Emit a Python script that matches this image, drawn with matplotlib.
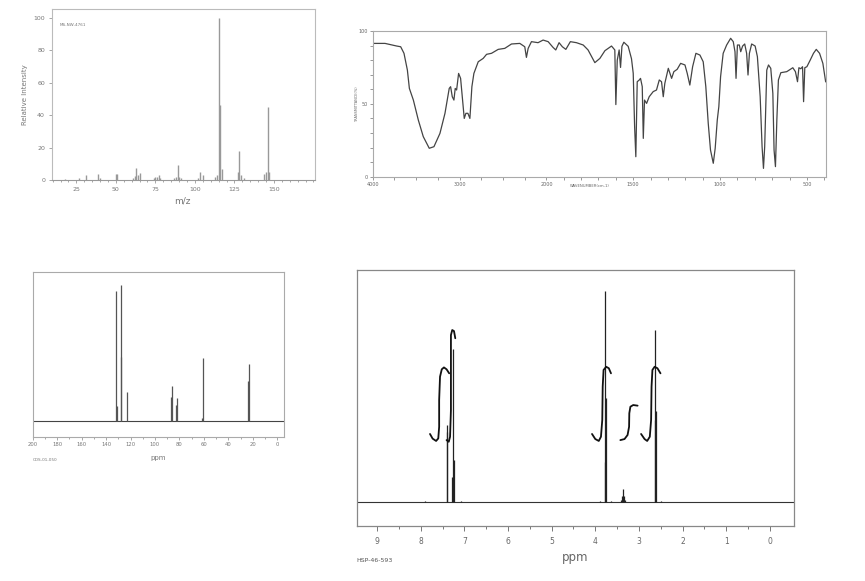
import matplotlib
matplotlib.use('Agg')
import matplotlib.pyplot as plt
import numpy as np
from matplotlib.ticker import FixedLocator

# ---------------- mass spectrum ----------------
ms_mz = [18, 27, 31, 39, 40, 50, 51, 61, 62, 63, 64, 65, 74, 75, 76, 77, 78,
         87, 88, 89, 90, 91, 102, 103, 105, 113, 114, 115, 116, 117,
         127, 128, 129, 131, 144, 145, 146, 147]
ms_int = [0.8, 1.2, 2.9, 3.9, 1.0, 3.5, 3.9, 1.5, 2.5, 7.4, 2.9, 4.5, 1.5, 2.0, 2.0, 3.0, 1.5,
          1.5, 1.8, 9.0, 2.0, 1.5, 1.2, 4.7, 2.9, 2.0, 3.0, 100.0, 46.0, 7.0,
          5.0, 18.0, 3.0, 1.5, 4.0, 5.0, 45.0, 5.0]
ms_xticks = [25, 50, 75, 100, 125, 150]
ms_yticks = [0, 20, 40, 60, 80, 100]

# ---------------- IR spectrum ----------------
ir_wn = [4000, 3858, 3724, 3678, 3640, 3601, 3578, 3532, 3475, 3418, 3349, 3295, 3226,
         3168, 3119, 3103, 3084, 3065, 3050, 3034, 3011, 2988, 2965, 2946, 2927, 2904,
         2881, 2858, 2835, 2785, 2728, 2689, 2632, 2555, 2479, 2402, 2306, 2249, 2230,
         2210, 2172, 2096, 2038, 1990, 1962, 1946, 1927, 1908, 1888, 1862, 1827, 1788,
         1760, 1721, 1692, 1663, 1625, 1606, 1600, 1592, 1581, 1573, 1565, 1554, 1529,
         1510, 1500, 1492, 1485, 1477, 1465, 1458, 1448, 1442, 1435, 1423, 1408, 1385,
         1366, 1350, 1337, 1327, 1318, 1298, 1279, 1266, 1247, 1227, 1202, 1189, 1174,
         1158, 1139, 1116, 1097, 1082, 1068, 1055, 1039, 1028, 1016, 1007, 997, 982,
         962, 939, 924, 914, 908, 900, 889, 881, 870, 858, 847, 839, 831, 818, 798, 785,
         769, 758, 750, 743, 731, 721, 708, 696, 689, 681, 673, 664, 650, 616, 581, 566,
         554, 546, 535, 525, 519, 512, 500, 481, 462, 446, 427, 408, 392]
ir_t = [91.5, 91.5, 89.7, 89.2, 84.7, 73.2, 60.6, 52.6, 38.9, 27.5, 19.5, 20.6, 29.7,
        43.5, 60.6, 61.8, 54.9, 52.6, 60.6, 59.5, 70.9, 67.5, 52.6, 40.0, 43.5, 43.5,
        40.0, 61.8, 70.9, 78.9, 81.2, 84.0, 84.7, 87.4, 88.1, 91.1, 91.5, 89.2, 81.9,
        88.1, 92.7, 92.0, 93.8, 92.7, 88.8, 87.0, 92.0, 89.2, 87.4, 92.7, 92.0, 90.4,
        87.0, 78.3, 81.2, 86.5, 89.7, 87.0, 49.5, 80.0, 87.0, 75.0, 89.5, 92.3, 89.5,
        81.0, 71.0, 34.3, 13.7, 65.2, 66.4, 67.5, 61.8, 26.3, 52.6, 50.3, 54.9, 58.4,
        59.5, 66.4, 65.2, 54.9, 64.1, 74.4, 67.5, 72.1, 73.7, 77.8, 76.7, 70.9, 62.9,
        75.5, 84.7, 83.5, 78.9, 61.8, 36.6, 18.3, 9.2, 19.5, 38.9, 48.1, 68.6, 84.7,
        90.4, 95.0, 92.7, 85.8, 67.5, 90.4, 90.4, 85.8, 89.7, 91.1, 84.7, 69.8, 84.7, 91.1, 89.7, 82.4,
        54.9, 20.6, 5.7, 20.6, 73.2, 76.7, 74.4, 57.2, 18.3, 6.9, 38.9, 66.4, 71.4, 72.1, 74.8, 72.1,
        65.2, 74.8, 74.1, 75.5, 51.5, 74.8, 75.5, 80.0, 84.7, 87.4, 84.7, 77.8, 65.2]
ir_major = [4000, 3000, 2000, 1500, 1000, 500]
ir_minor = [3750, 3500, 3250, 2750, 2500, 2250,
            1900, 1800, 1700, 1600, 1400, 1300, 1200, 1100, 900, 800, 700, 600, 400]

# ---------------- 13C NMR ----------------
c13_ppm = [131.6, 131.1, 128.0, 127.5, 123.1, 86.6, 86.1, 82.4, 82.0, 61.2, 60.6, 23.9, 23.5]
c13_int = [95.8, 11.5, 100.0, 47.4, 21.8, 18.1, 25.9, 12.0, 17.1, 2.2, 46.7, 29.8, 41.8]

# ---------------- 1H NMR ----------------
h_ppm = [7.90, 7.41, 7.395, 7.28, 7.265, 7.25, 7.07,
         3.90, 3.785, 3.77, 3.755, 3.65,
         3.42, 3.395, 3.37, 3.345, 3.32,
         2.635, 2.62, 2.605, 2.50]
h_int = [0.6, 36.4, 33.3, 12.0, 72.2, 20.0, 0.6,
         0.6, 19.0, 100.0, 49.0, 0.6,
         1.0, 3.0, 6.0, 3.0, 1.0,
         39.0, 81.4, 43.0, 0.6]

# integral traces (ppm, height)
integrals = [
    ([7.79, 7.73, 7.65, 7.60, 7.58, 7.58, 7.56, 7.52, 7.47, 7.41, 7.35],
     [32.2, 30.0, 28.9, 30.1, 35.6, 48.3, 59.3, 62.8, 63.7, 62.8, 60.9]),
    ([7.41, 7.36, 7.33, 7.31, 7.31, 7.31, 7.28, 7.24, 7.21],
     [29.3, 28.5, 30.9, 43.5, 67.2, 79.0, 81.4, 80.9, 77.5]),
    ([4.075, 4.00, 3.92, 3.87, 3.84, 3.83, 3.81, 3.75, 3.69, 3.64],
     [32.2, 29.8, 28.9, 30.9, 38.8, 54.6, 62.5, 64.0, 63.3, 60.9]),
    ([3.425, 3.33, 3.26, 3.225, 3.22, 3.195, 3.13, 3.03],
     [29.3, 29.8, 31.7, 35.6, 42.0, 45.1, 45.9, 45.6]),
    ([2.95, 2.87, 2.81, 2.75, 2.72, 2.71, 2.69, 2.64, 2.575, 2.505],
     [32.2, 29.8, 28.9, 30.9, 38.8, 54.6, 62.5, 64.0, 63.3, 60.9]),
]


def style_frame(ax, color, lw=0.8):
    for s in ax.spines.values():
        s.set_color(color)
        s.set_linewidth(lw)


fig = plt.figure(figsize=(8.65, 5.81), dpi=100)

# ---- MS ----
ax1 = fig.add_axes([0.0601, 0.6902, 0.3041, 0.2943])
ax1.vlines(ms_mz, 0, ms_int, color='#999999', lw=1.0)
ax1.set_xlim(9.6, 176)
ax1.set_ylim(0, 105.4)
ax1.set_xticks(ms_xticks)
ax1.set_xticks(np.arange(10, 176, 5), minor=True)
ax1.set_yticks(ms_yticks)
style_frame(ax1, '#bbbbbb')
ax1.spines['bottom'].set_color('#999999')
ax1.tick_params(which='both', direction='out', colors='#999999', labelcolor='#777777',
                labelsize=4.5, length=2, width=0.6, pad=3)
ax1.tick_params(which='minor', length=1.5)
ax1.set_xlabel('m/z', fontsize=6.5, color='#777777')
ax1.xaxis.set_label_coords(0.497, -0.095)
ax1.set_ylabel('Relative Intensity', fontsize=5, color='#777777')
ax1.yaxis.set_label_coords(-0.092, 0.5)
ax1.text(0.03, 0.908, 'MS-NW-4761', fontsize=3, color='#777777',
         transform=ax1.transAxes, va='center')


# ---- IR ----
def ir_fwd(w):
    w = np.asarray(w, dtype=float)
    return np.where(w >= 2000, (w - 2000) / 1000.0, (w - 2000) / 500.0)


def ir_inv(u):
    u = np.asarray(u, dtype=float)
    return np.where(u >= 0, 2000 + 1000.0 * u, 2000 + 500.0 * u)


ax2 = fig.add_axes([0.4309, 0.6959, 0.5240, 0.2507])
ax2.set_xscale('function', functions=(ir_fwd, ir_inv))
ax2.plot(ir_wn, ir_t, color='#444444', lw=0.9)
ax2.set_xlim(4000, 390)
ax2.set_ylim(0, 100)
ax2.xaxis.set_major_locator(FixedLocator(ir_major))
ax2.xaxis.set_minor_locator(FixedLocator(ir_minor))
ax2.set_xticklabels([str(v) for v in ir_major])
ax2.set_yticks([0, 50, 100])
ax2.set_yticks(range(10, 100, 10), minor=True)
ax2.xaxis.set_minor_formatter(plt.NullFormatter())
style_frame(ax2, '#aaaaaa')
ax2.tick_params(which='both', direction='out', colors='#888888', labelcolor='#666666',
                labelsize=3.5, length=2, width=0.6, pad=1.5)
ax2.text(-0.035, 0.5, 'TRANSMITTANCE(%)', fontsize=2.5, color='#666666', rotation=90,
         transform=ax2.transAxes, ha='center', va='center')
ax2.text(0.479, -0.064, 'WAVENUMBER(cm-1)', fontsize=2.7, color='#666666',
         transform=ax2.transAxes, ha='center', va='center')

# ---- 13C NMR ----
ax3 = fig.add_axes([0.0378, 0.2484, 0.2905, 0.2829])
ax3.axhline(0, color='#444444', lw=0.8)
ax3.vlines(c13_ppm, 0, c13_int, color='#555555', lw=0.9)
ax3.set_xlim(200, -5.5)
ax3.set_ylim(-11.3, 109.3)
ax3.set_xticks(range(0, 201, 20))
ax3.set_xticks(range(10, 200, 20), minor=True)
ax3.set_yticks([])
style_frame(ax3, '#aaaaaa')
ax3.tick_params(which='both', direction='out', colors='#999999', labelcolor='#777777',
                labelsize=3.8, length=2.2, width=0.6, pad=1.5)
ax3.tick_params(which='minor', length=1.5)
ax3.text(0.499, -0.13, 'ppm', fontsize=5, color='#777777', transform=ax3.transAxes,
         ha='center', va='center')
ax3.text(0.0, -0.142, 'CDS-01-050', fontsize=3, color='#777777', transform=ax3.transAxes,
         ha='left', va='center')

# ---- 1H NMR ----
ax4 = fig.add_axes([0.4124, 0.0952, 0.5052, 0.4401])
ax4.axhline(0, color='#333333', lw=0.8)
ax4.vlines(h_ppm, 0, h_int, color='#222222', lw=0.9)
for xs, ys in integrals:
    ax4.plot(xs, ys, color='#111111', lw=1.3, solid_capstyle='round')
ax4.set_xlim(9.47, -0.55)
ax4.set_ylim(-11.2, 109.8)
ax4.set_xticks(range(0, 10))
ax4.set_xticks(np.arange(0.5, 9.5, 1.0), minor=True)
ax4.set_yticks([])
style_frame(ax4, '#888888', lw=0.9)
ax4.tick_params(which='both', direction='out', colors='#777777', labelcolor='#666666',
                labelsize=5.5, length=3.6, width=0.7, pad=4.3)
ax4.tick_params(which='minor', length=2.2)
ax4.text(0.4995, -0.126, 'ppm', fontsize=8.5, color='#666666', transform=ax4.transAxes,
         ha='center', va='center')
ax4.text(0.0, -0.135, 'HSP-46-593', fontsize=4.5, color='#555555', transform=ax4.transAxes,
         ha='left', va='center')

fig.savefig('out.png', dpi=100)
